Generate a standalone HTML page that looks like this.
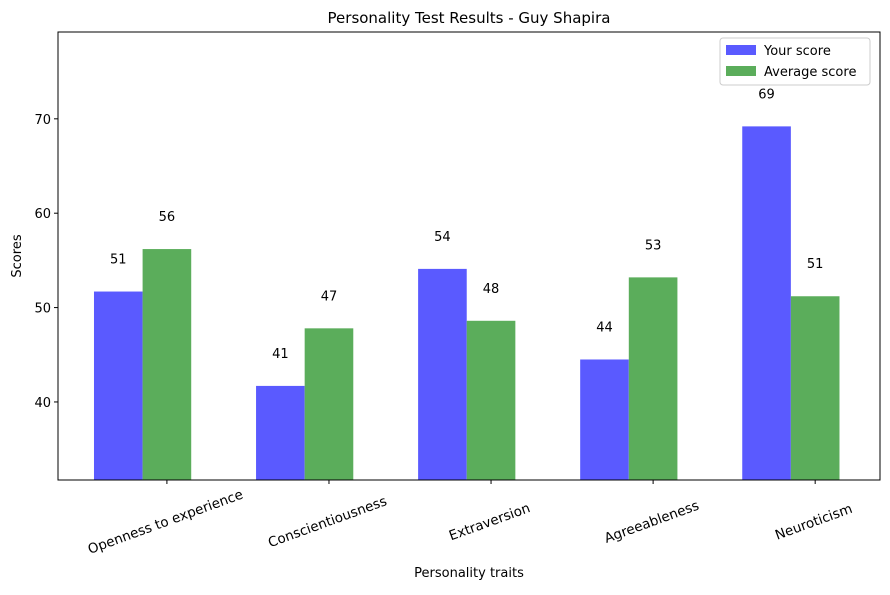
<!DOCTYPE html>
<html><head><meta charset="utf-8"><style>
body{margin:0;background:#fff;}
svg{font-family:"DejaVu Sans","Liberation Sans",sans-serif;}
</style></head><body>
<svg id="chart" width="890" height="590" viewBox="0 0 890 590"></svg>
<script>
const categories=["Openness to experience","Conscientiousness","Extraversion","Agreeableness","Neuroticism"];
const yourScores=[51.7,41.7,54.1,44.5,69.2];
const avgScores=[56.2,47.8,48.6,53.2,51.2];
const yTicks=[40,50,60,70];
const L=58,R=880,T=32,B=480;
const yMin=31.73,yMax=79.2,xMin=-0.222,xMax=4.85,bw=0.3;
const X=v=>L+(v-xMin)/(xMax-xMin)*(R-L);
const Y=v=>B-(v-yMin)/(yMax-yMin)*(B-T);
const svg=document.getElementById('chart');
const NS='http://www.w3.org/2000/svg';
function mk(tag,attrs,parent){const e=document.createElementNS(NS,tag);for(const k in attrs)e.setAttribute(k,attrs[k]);(parent||svg).appendChild(e);return e;}
function txt(s,attrs){const e=mk('text',attrs);e.textContent=s;return e;}
let t=txt('Personality Test Results - Guy Shapira',{x:(L+R)/2,y:23,'text-anchor':'middle','font-size':15});


function bars(vals,off,color,name){
vals.forEach((v,i)=>{
const x0=X(i+off),x1=X(i+off+bw);
const r=mk('rect',{x:x0,y:Y(v),width:x1-x0,height:B-Y(v),fill:color});


const l=txt(String(Math.floor(v)),{x:(x0+x1)/2,y:Y(v+3.5)+5,'text-anchor':'middle','font-size':13});


});}
bars(yourScores,0,'#5a5aff','your-score');
bars(avgScores,bw,'#5bad5b','average-score');
const ax=mk('rect',{x:L,y:T,width:R-L,height:B-T,fill:'none',stroke:'#000','stroke-width':1});


yTicks.forEach(v=>{
const ln=mk('line',{x1:L-4,x2:L,y1:Y(v),y2:Y(v),stroke:'#000'});


const tl=txt(String(v),{x:L-7,y:Y(v)+5,'text-anchor':'end','font-size':13});


});
categories.forEach((c,i)=>{
const x=X(i+1.5*bw);
const ln=mk('line',{x1:x,x2:x,y1:B,y2:B+4,stroke:'#000'});


const tl=txt(c,{x:0,y:0,'text-anchor':'middle','font-size':13.5,transform:`translate(${x},${B+46}) rotate(-20)`});


});
let xt=txt('Personality traits',{x:(L+R)/2,y:577,'text-anchor':'middle','font-size':13});


let yt=txt('Scores',{x:0,y:0,'text-anchor':'middle','font-size':13,transform:`translate(21,${(T+B)/2}) rotate(-90)`});


const lg=mk('rect',{x:720,y:38,width:150,height:47,fill:'#fff',stroke:'#ccc',rx:3});


[['Your score','#5a5aff'],['Average score','#5bad5b']].forEach((e,i)=>{
const p=mk('rect',{x:726,y:45+i*21,width:30,height:10,fill:e[1]});


const lt=txt(e[0],{x:764,y:55+i*21,'font-size':13});


});
</script>
</body></html>
